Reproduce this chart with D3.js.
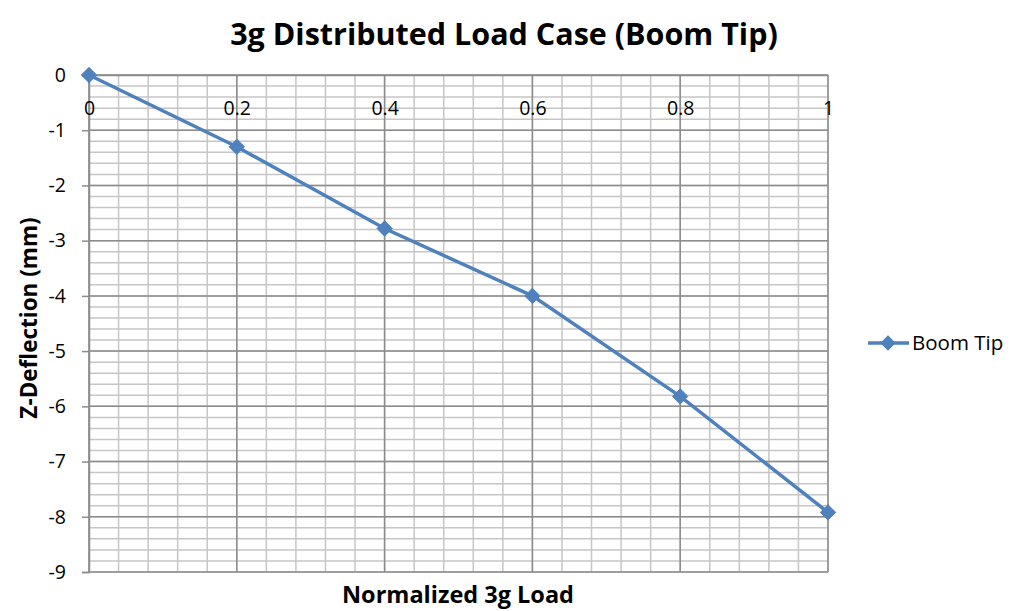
<!DOCTYPE html>
<html><head><meta charset="utf-8">
<script src="https://cdnjs.cloudflare.com/ajax/libs/d3/7.8.5/d3.min.js"></script>
<style>body{margin:0;background:#fff;}svg{display:block;font-family:"Open Sans",sans-serif;}</style>
</head><body>
<script>
const loads = [0, 0.2, 0.4, 0.6, 0.8, 1];
const deflection = [0, -1.3, -2.78, -4.0, -5.82, -7.92];
const xTicks = [0, 0.2, 0.4, 0.6, 0.8, 1];
const yTicks = [0, -1, -2, -3, -4, -5, -6, -7, -8, -9];
const seriesName = "Boom Tip";
const title = "3g Distributed Load Case (Boom Tip)";
const xTitle = "Normalized 3g Load";
const yTitle = "Z-Deflection (mm)";

const W = 1013, H = 611;
const m = {left: 89, right: 1013-828, top: 75, bottom: 611-572};
const svg = d3.select("body").append("svg").attr("width", W).attr("height", H);
const x = d3.scaleLinear().domain([0, 1]).range([m.left, W - m.right]);
const y = d3.scaleLinear().domain([0, -9]).range([m.top, H - m.bottom]);
const blue = "#4F81BD";
const fmt = d => String(d).replace("\u2212", "-");

// minor grid
const xMinor = d3.range(0, 1.0001, 0.04);
const yMinor = d3.range(0, -9.0001, -0.2);
svg.append("g").selectAll("line").data(xMinor).join("line")
  .attr("x1", d => x(d)).attr("x2", d => x(d)).attr("y1", y(0)).attr("y2", y(-9))
  .attr("stroke", "#c6c6c6").attr("stroke-width", 1.5);
svg.append("g").selectAll("line").data(yMinor).join("line")
  .attr("y1", d => y(d)).attr("y2", d => y(d)).attr("x1", x(0)).attr("x2", x(1))
  .attr("stroke", "#c6c6c6").attr("stroke-width", 1.5);
// major grid
svg.append("g").selectAll("line").data(xTicks).join("line")
  .attr("x1", d => x(d)).attr("x2", d => x(d)).attr("y1", y(0)).attr("y2", y(-9))
  .attr("stroke", "#8c8c8c").attr("stroke-width", 1.5);
svg.append("g").selectAll("line").data(yTicks).join("line")
  .attr("y1", d => y(d)).attr("y2", d => y(d)).attr("x1", x(0)).attr("x2", x(1))
  .attr("stroke", "#8c8c8c").attr("stroke-width", 1.5);

// y axis
const yAxis = d3.axisLeft(y).tickValues(yTicks).tickSize(7).tickPadding(16).tickFormat(fmt);
const gy = svg.append("g").attr("transform", `translate(${x(0)},0)`).call(yAxis);
gy.select(".domain").attr("stroke", "#8c8c8c").attr("stroke-width", 1.5);
gy.selectAll(".tick line").attr("stroke", "#8c8c8c").attr("stroke-width", 1.5);
gy.selectAll("text").attr("font-size", 19.5).attr("fill", "#000").attr("font-family", "Open Sans");

// x axis at y=0
const xAxis = d3.axisBottom(x).tickValues(xTicks).tickSize(0).tickFormat(fmt);
const gx = svg.append("g").attr("transform", `translate(0,${y(0)})`).call(xAxis);
gx.select(".domain").attr("stroke", "#8c8c8c").attr("stroke-width", 1.5);
gx.selectAll("text").attr("font-size", 19.5).attr("fill", "#000").attr("font-family", "Open Sans")
  .attr("dy", null).attr("y", 40);

// line
const pts = loads.map((d, i) => [d, deflection[i]]);
svg.append("path").datum(pts)
  .attr("d", d3.line().x(d => x(d[0])).y(d => y(d[1])))
  .attr("fill", "none").attr("stroke", blue).attr("stroke-width", 3.5);
const diamond = d3.symbol().type(d3.symbolDiamond2).size(150);
svg.append("g").selectAll("path").data(pts).join("path")
  .attr("d", diamond).attr("transform", d => `translate(${x(d[0])},${y(d[1])})`)
  .attr("fill", blue).attr("stroke", blue).attr("stroke-width", 1);

// titles
svg.append("text").attr("x", 504).attr("y", 45).attr("text-anchor", "middle")
  .attr("font-size", 30.5).attr("font-weight", "bold").text(title);
svg.append("text").attr("x", 458).attr("y", 603).attr("text-anchor", "middle")
  .attr("font-size", 23.5).attr("font-weight", "bold").text(xTitle);
svg.append("text").attr("transform", "translate(37,318) rotate(-90)").attr("text-anchor", "middle")
  .attr("font-size", 22.5).attr("font-weight", "bold").text(yTitle);

// legend
const lg = svg.append("g");
lg.append("line").attr("x1", 868).attr("x2", 909).attr("y1", 343).attr("y2", 343)
  .attr("stroke", blue).attr("stroke-width", 3.5);
lg.append("path").attr("d", diamond).attr("transform", "translate(888,343)").attr("fill", blue);
lg.append("text").attr("x", 912).attr("y", 350).attr("font-size", 20.5).text(seriesName);
</script>
</body></html>
